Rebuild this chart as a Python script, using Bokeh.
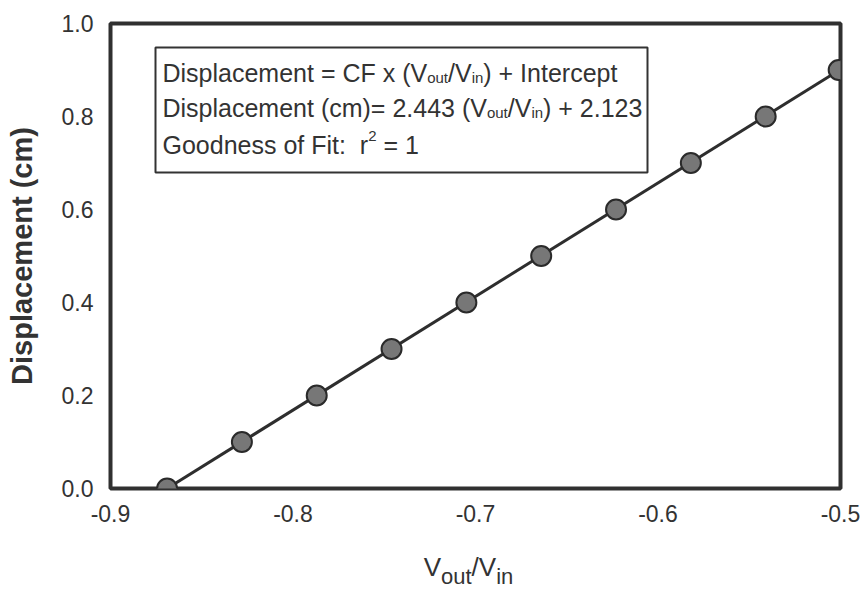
from bokeh.plotting import figure
from bokeh.models import Range1d, FixedTicker, PrintfTickFormatter, Label, BoxAnnotation
from bokeh.core.properties import value
from bokeh.embed import file_html
from bokeh.resources import INLINE

# ---- data ----
vout_vin = [-0.869, -0.828, -0.787, -0.746, -0.705, -0.664, -0.623, -0.582, -0.541, -0.501]
displacement = [0.0, 0.1, 0.2, 0.3, 0.4, 0.5, 0.6, 0.7, 0.8, 0.9]
fit_slope = 2.443
fit_intercept = 2.123
x_ticks = [-0.9, -0.8, -0.7, -0.6, -0.5]
y_ticks = [0.0, 0.2, 0.4, 0.6, 0.8, 1.0]

NB = "\u00a0"
box_lines = [
    [("Displacement = CF x (V", "n"), ("out", "sub"), ("/V", "n"), ("in", "sub"), (") + Intercept", "n")],
    [("Displacement (cm)= 2.443 (V", "n"), ("out", "sub"), ("/V", "n"), ("in", "sub"), (") + 2.123", "n")],
    [("Goodness of Fit:" + NB + NB + "r", "n"), ("2", "sup"), (NB + "=" + NB + "1", "n")],
]
xlabel_parts = [("V", "n"), ("out", "sub"), ("/V", "n"), ("in", "sub")]

# ---- layout (page pixels) ----
W, H = 865, 591
FL, FR, FT, FB = 110, 840, 23, 488          # frame edges in page coords
X0, X1, Y0, Y1 = -0.9, -0.5, 0.0, 1.0
FONT = "Liberation Sans"
TXT = "#333333"

def px_x(xp):
    return X0 + (xp - FL) / (FR - FL) * (X1 - X0)

def px_y(yp):
    return Y0 + (FB - yp) / (FB - FT) * (Y1 - Y0)

ARIAL = {' ': 278, '\u00a0': 278, '(': 333, ')': 333, '+': 584, '-': 333, '.': 278, '/': 278,
         ':': 278, '=': 584, 'C': 722, 'D': 722, 'F': 611, 'G': 778, 'I': 278, 'V': 667,
         'a': 556, 'c': 500, 'd': 556, 'e': 556, 'f': 278, 'i': 222, 'l': 222, 'm': 833,
         'n': 556, 'o': 556, 'p': 556, 'r': 333, 's': 500, 't': 278, 'u': 556, 'x': 500}

def text_w(s, size):
    return sum(ARIAL.get(c, 556) for c in s) / 1000.0 * size

p = figure(width=W, height=H, output_backend="svg", toolbar_location=None,
           x_range=Range1d(X0, X1), y_range=Range1d(Y0, Y1),
           min_border_left=FL, min_border_right=W - FR,
           min_border_top=FT, min_border_bottom=H - FB)
p.background_fill_color = "white"
p.border_fill_color = "white"
p.outline_line_color = "#303030"
p.outline_line_width = 4
p.xgrid.visible = False
p.ygrid.visible = False

for ax in (p.xaxis, p.yaxis):
    ax.axis_line_color = None
    ax.major_tick_line_color = None
    ax.minor_tick_line_color = None
    ax.major_label_text_font = FONT
    ax.major_label_text_font_size = "23px"
    ax.major_label_text_color = TXT
    ax.formatter = PrintfTickFormatter(format="%.1f")

p.xaxis.ticker = FixedTicker(ticks=x_ticks)
p.yaxis.ticker = FixedTicker(ticks=y_ticks)
p.xaxis.major_label_standoff = 10
p.yaxis.major_label_standoff = 11

p.yaxis.axis_label = "Displacement (cm)"
p.yaxis.axis_label_text_font = FONT
p.yaxis.axis_label_text_font_size = "29px"
p.yaxis.axis_label_text_font_style = "bold"
p.yaxis.axis_label_text_color = TXT
p.yaxis.axis_label_standoff = 21

# fit line and points
fx = [min(vout_vin), max(vout_vin)]
fy = [fit_slope * v + fit_intercept for v in fx]
p.line(fx, fy, line_color="#2e2e2e", line_width=3)
p.scatter(vout_vin, displacement, marker="circle", size=20,
          fill_color="#777777", line_color="#2a2a2a", line_width=2)

# equation box
box = BoxAnnotation(left=px_x(155), right=px_x(647), top=px_y(47), bottom=px_y(172),
                    fill_color="white", fill_alpha=1.0,
                    line_color="#333333", line_alpha=1.0, line_width=2)
p.add_layout(box)

def layout_parts(parts, x_start_px, base_px, size, sub_size, sub_off, sup_off):
    out = []
    x = x_start_px
    for s, kind in parts:
        if kind == "n":
            fs, yb = size, base_px
        elif kind == "sub":
            fs, yb = sub_size, base_px + sub_off
        else:
            fs, yb = sub_size, base_px - sup_off
        out.append((s, x, yb, fs))
        x += text_w(s, fs)
    return out

baselines = [72, 107, 144]
for parts, b in zip(box_lines, baselines):
    for s, xp, yb, fs in layout_parts(parts, 162, b, 25, 15, 5, 9):
        lab = Label(x=px_x(xp), y=px_y(yb), text=s)
        lab.text_font = FONT
        lab.text_font_size = f"{fs}px"
        lab.text_color = TXT
        lab.text_align = "left"
        lab.text_baseline = "alphabetic"
        p.add_layout(lab)

# x-axis label V_out/V_in below the frame (overlay level, not clipped to the frame)
xl_size, xl_sub = 26, 22
total = sum(text_w(s, xl_size if k == "n" else xl_sub) for s, k in xlabel_parts)
for s, xp, yb, fs in layout_parts(xlabel_parts, 468 - total / 2, 566, xl_size, xl_sub, 10, 0):
    p.text(x=[px_x(xp)], y=[px_y(yb)], text=[s], text_font=value(FONT),
           text_font_size=f"{fs}px", text_color=TXT, text_align="left",
           text_baseline="alphabetic", level="overlay")

open("out.html", "w").write(file_html(p, INLINE))
